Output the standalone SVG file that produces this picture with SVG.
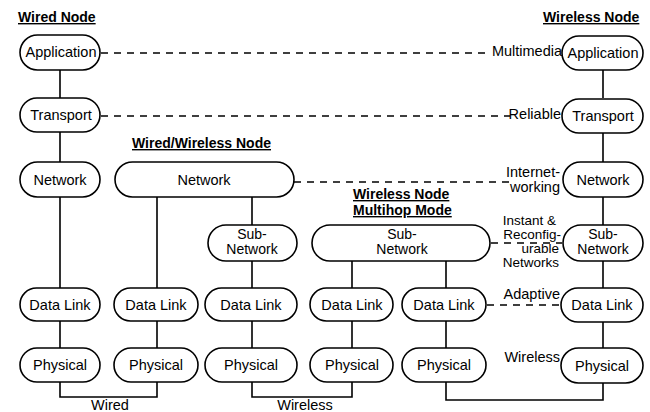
<svg xmlns="http://www.w3.org/2000/svg" width="650" height="412" viewBox="0 0 650 412">
<style>
.b{fill:#fff;stroke:#000;stroke-width:1.6}
.t{font-family:"Liberation Sans",Arial,sans-serif;font-size:14.5px;fill:#000;text-anchor:middle}
.u{font-family:"Liberation Sans",Arial,sans-serif;font-size:14px;fill:#000;text-anchor:middle}
.l{font-family:"Liberation Sans",Arial,sans-serif;font-size:14.5px;fill:#000;text-anchor:end}
.k{font-family:"Liberation Sans",Arial,sans-serif;font-size:13.5px;fill:#000;text-anchor:end}
.h{font-family:"Liberation Sans",Arial,sans-serif;font-size:14px;font-weight:bold;fill:#000;text-decoration:underline}
.s{fill:none;stroke:#000;stroke-width:1.6}
.d{fill:none;stroke:#000;stroke-width:1.6;stroke-dasharray:7 6}
</style>
<rect width="650" height="412" fill="#fff"/>
<g id="connectors">
<path class="s" d="M60 70V98M60 132V162M60 197V288M60 321V348"/>
<path class="s" d="M157 197V288M157 321V348"/>
<path class="s" d="M252 197V225M252 261V288M252 321V348"/>
<path class="s" d="M352 261V288M352 321V348"/>
<path class="s" d="M446 261V288M446 321V348"/>
<path class="s" d="M603 70V98M603 132V162M603 197V225M603 261V288M603 321V348"/>
<path class="s" d="M60 382V397H157V382"/>
<path class="s" d="M252 382V397H352V382"/>
<path class="s" d="M446 382V400H603V382"/>
<path class="d" d="M101 53H488"/>
<path class="d" d="M101 116H510"/>
<path class="d" d="M294 182H512"/>
<path class="d" d="M491 243H562"/>
<path class="d" d="M487 305H562"/>
</g>
<g id="titles">
<text class="h" x="18" y="22">Wired Node</text>
<text class="h" x="543" y="22">Wireless Node</text>
<text class="h" x="132" y="148">Wired/Wireless Node</text>
<text class="h" x="353" y="199">Wireless Node</text>
<text class="h" x="353" y="215">Multihop Mode</text>
</g>
<g id="labels">
<text class="l" x="562" y="56">Multimedia</text>
<text class="l" x="561" y="119">Reliable</text>
<text class="l" x="560" y="177">Internet-</text>
<text class="l" x="560" y="192">working</text>
<text class="k" x="556" y="225">Instant &amp;</text>
<text class="k" x="561" y="239">Reconfig-</text>
<text class="k" x="559" y="253">urable</text>
<text class="k" x="559" y="267">Networks</text>
<text class="l" x="560" y="299">Adaptive</text>
<text class="l" x="560" y="362">Wireless</text>
<text class="t" x="110" y="410">Wired</text>
<text class="t" x="305" y="410">Wireless</text>
</g>
<g id="wired-application"><rect class="b" x="20" y="35" width="80" height="35" rx="17.5"/><text class="t" x="61" y="57">Application</text></g>
<g id="wired-transport"><rect class="b" x="20" y="98" width="80" height="34" rx="17"/><text class="t" x="61" y="120">Transport</text></g>
<g id="wired-network"><rect class="b" x="20" y="162" width="80" height="35" rx="17.5"/><text class="t" x="60" y="185">Network</text></g>
<g id="wired-datalink"><rect class="b" x="20" y="288" width="80" height="33" rx="16.5"/><text class="t" x="60" y="310">Data Link</text></g>
<g id="wired-physical"><rect class="b" x="20" y="348" width="80" height="34" rx="17"/><text class="t" x="60" y="370">Physical</text></g>
<g id="ww-network"><rect class="b" x="115" y="162" width="179" height="35" rx="17.5"/><text class="t" x="204" y="185">Network</text></g>
<g id="ww-datalink"><rect class="b" x="114" y="288" width="84" height="33" rx="16.5"/><text class="t" x="156" y="310">Data Link</text></g>
<g id="ww-physical"><rect class="b" x="114" y="348" width="84" height="34" rx="17"/><text class="t" x="156" y="370">Physical</text></g>
<g id="ww-subnetwork"><rect class="b" x="208" y="225" width="89" height="36" rx="18"/><text class="u" x="252" y="239">Sub-</text><text class="u" x="252" y="254">Network</text></g>
<g id="ww-datalink2"><rect class="b" x="205" y="288" width="92" height="33" rx="16.5"/><text class="t" x="251" y="310">Data Link</text></g>
<g id="ww-physical2"><rect class="b" x="205" y="348" width="92" height="34" rx="17"/><text class="t" x="251" y="370">Physical</text></g>
<g id="mh-subnetwork"><rect class="b" x="312" y="225" width="178" height="36" rx="18"/><text class="u" x="402" y="239">Sub-</text><text class="u" x="402" y="254">Network</text></g>
<g id="mh-datalink1"><rect class="b" x="310" y="288" width="83" height="33" rx="16.5"/><text class="t" x="352" y="310">Data Link</text></g>
<g id="mh-physical1"><rect class="b" x="310" y="348" width="83" height="34" rx="17"/><text class="t" x="352" y="370">Physical</text></g>
<g id="mh-datalink2"><rect class="b" x="402" y="288" width="84" height="33" rx="16.5"/><text class="t" x="444" y="310">Data Link</text></g>
<g id="mh-physical2"><rect class="b" x="402" y="348" width="84" height="34" rx="17"/><text class="t" x="444" y="370">Physical</text></g>
<g id="wl-application"><rect class="b" x="562" y="36" width="81" height="34" rx="17"/><text class="t" x="603" y="58">Application</text></g>
<g id="wl-transport"><rect class="b" x="562" y="99" width="81" height="34" rx="17"/><text class="t" x="603" y="121">Transport</text></g>
<g id="wl-network"><rect class="b" x="563" y="162" width="80" height="35" rx="17.5"/><text class="t" x="603" y="185">Network</text></g>
<g id="wl-subnetwork"><rect class="b" x="563" y="225" width="80" height="36" rx="18"/><text class="u" x="603" y="239">Sub-</text><text class="u" x="603" y="254">Network</text></g>
<g id="wl-datalink"><rect class="b" x="561" y="288" width="82" height="34" rx="17"/><text class="t" x="602" y="310">Data Link</text></g>
<g id="wl-physical"><rect class="b" x="561" y="348" width="82" height="35" rx="17.5"/><text class="t" x="602" y="371">Physical</text></g>
</svg>
